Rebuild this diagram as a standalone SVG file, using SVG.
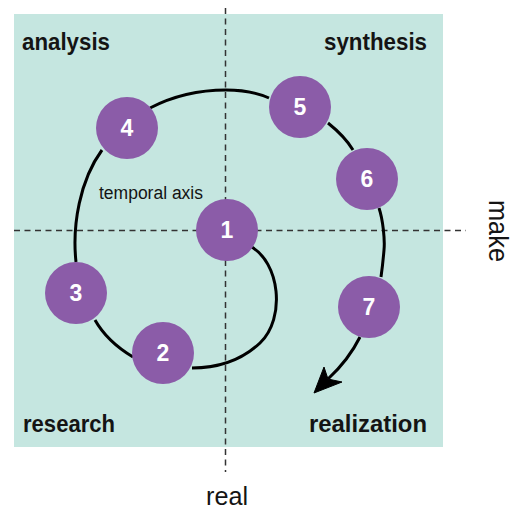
<svg xmlns="http://www.w3.org/2000/svg" width="516" height="511" viewBox="0 0 516 511">
<defs>
<style>
.q{font-family:"Liberation Sans",Arial,sans-serif;font-weight:bold;font-size:24px;fill:#141414}
.ax{font-family:"Liberation Sans",Arial,sans-serif;font-size:28px;fill:#141414}
.node circle{fill:#8b5ca8}
.node text{font-family:"Liberation Sans",Arial,sans-serif;font-weight:bold;font-size:23px;fill:#fff;text-anchor:middle}
.dash{stroke:#333;stroke-width:1.5;stroke-dasharray:6 4.5;fill:none}
.sp{stroke:#000;stroke-width:3;fill:none}
</style>
</defs>
<rect x="14" y="14" width="429" height="433" fill="#c5e6e0"/>
<g id="axes">
<line class="dash" x1="225.5" y1="8" x2="225.5" y2="472"/>
<line class="dash" x1="14" y1="230.5" x2="466" y2="230.5"/>
</g>
<g id="labels">
<text class="q" x="22" y="50" textLength="88" lengthAdjust="spacingAndGlyphs">analysis</text>
<text class="q" x="324" y="50" textLength="103" lengthAdjust="spacingAndGlyphs">synthesis</text>
<text class="q" x="23" y="432" textLength="92" lengthAdjust="spacingAndGlyphs">research</text>
<text class="q" x="309" y="432" textLength="118" lengthAdjust="spacingAndGlyphs">realization</text>
<text x="99" y="199" font-family="Liberation Sans,Arial,sans-serif" font-size="18" fill="#141414" textLength="104" lengthAdjust="spacingAndGlyphs">temporal axis</text>
<text class="ax" x="206" y="505" font-size="26" style="font-size:26px" textLength="42" lengthAdjust="spacingAndGlyphs">real</text>
<text class="ax" transform="translate(489,200) rotate(90)" x="0" y="0" textLength="62" lengthAdjust="spacingAndGlyphs">make</text>
</g>
<g id="connectors">
<path class="sp" d="M250,246 C280,262 286,318 260,343 C244,358 222,368 192,368"/>
<path class="sp" d="M133,357 C118,348 104,336 95,320"/>
<path class="sp" d="M76,262 C72,225 80,180 102,150"/>
<path class="sp" d="M150,108 C175,95 200,90 226,90 C245,90 258,93 269,98"/>
<path class="sp" d="M328,123 C338,131 347,140 353,150"/>
<path class="sp" d="M379,208 C383,220 385,240 384,250 C383,262 382,270 381,277"/>
<path class="sp" d="M360,337 C352,353 341,367 328,379"/>
<path d="M314,393 L324,367 L328,379 L342,382 Z" fill="#000" stroke="#000" stroke-width="1" stroke-linejoin="miter"/>
</g>
<g id="n1" class="node"><circle cx="227" cy="230" r="31"/><text x="227" y="238">1</text></g>
<g id="n2" class="node"><circle cx="163" cy="353" r="31"/><text x="163" y="361">2</text></g>
<g id="n3" class="node"><circle cx="76" cy="293" r="31"/><text x="76" y="301">3</text></g>
<g id="n4" class="node"><circle cx="127" cy="128" r="31"/><text x="127" y="136">4</text></g>
<g id="n5" class="node"><circle cx="300" cy="107" r="31"/><text x="300" y="115">5</text></g>
<g id="n6" class="node"><circle cx="367" cy="179" r="31"/><text x="367" y="187">6</text></g>
<g id="n7" class="node"><circle cx="369" cy="307" r="31"/><text x="369" y="315">7</text></g>
</svg>
